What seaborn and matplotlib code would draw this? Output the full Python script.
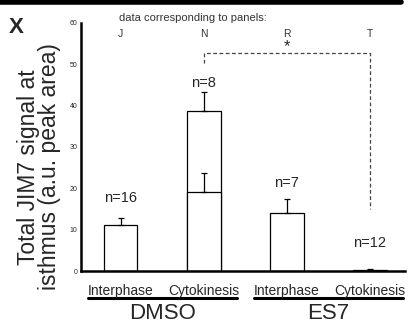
import pandas as pd
import matplotlib
matplotlib.use("Agg")
import matplotlib.pyplot as plt
import seaborn as sns

# values
conditions = ["Interphase", "Cytokinesis", "Interphase", "Cytokinesis"]
treatments = ["DMSO", "DMSO", "ES7", "ES7"]
means = [11.1, 38.8, 14.0, 0.3]
errors = [1.8, 4.5, 3.4, 0.1]
inner_mean = [0, 19.2, 0, 0]
inner_err = [0, 4.6, 0, 0]
n_labels = ["n=16", "n=8", "n=7", "n=12"]
n_heights = [17.7, 45.5, 21.3, 6.8]
panels = ["J", "N", "R", "T"]

df = pd.DataFrame({"pos": range(4), "mean": means, "inner": inner_mean})

sns.set_theme(style="white")
plt.rcParams["font.family"] = ["Liberation Sans", "DejaVu Sans"]

fig = plt.figure(figsize=(4.09, 3.27), dpi=100)
ax = fig.add_axes([0.198, 0.171, 0.792, 0.759])

sns.barplot(data=df, x="pos", y="mean", color="white", edgecolor="black",
            linewidth=0.9, width=0.4, ax=ax, native_scale=True)
ax.errorbar(df["pos"], means, yerr=[[0] * 4, errors], fmt="none",
            ecolor="black", elinewidth=0.9, capsize=2.5, capthick=0.9)

# inner (peak) value for DMSO cytokinesis
sub = df[df["inner"] > 0]
sns.barplot(data=sub, x="pos", y="inner", color="white", edgecolor="black",
            linewidth=0.9, width=0.4, ax=ax, native_scale=True)
ax.errorbar(sub["pos"], sub["inner"], yerr=[[0] * len(sub), [inner_err[1]]],
            fmt="none", ecolor="black", elinewidth=0.9, capsize=2.5, capthick=0.9)

for x, lab, h in zip(df["pos"], n_labels, n_heights):
    ax.text(x, h, lab, ha="center", va="center", fontsize=10.5)

for x, p in zip(df["pos"], panels):
    ax.text(x, 57.2, p, ha="center", va="center", fontsize=7.5, color="#333333")
ax.text(-0.02, 61.3, "data corresponding to panels:", ha="left", va="center",
        fontsize=8, color="#333333")

# significance bracket
ax.plot([1, 1, 3, 3], [50.4, 52.8, 52.8, 15], ls=(0, (3, 2)), color="#444444", lw=0.9)
ax.text(2, 54.3, "*", ha="center", va="center", fontsize=12)

ax.set_xlim(-0.48, 3.42)
ax.set_ylim(0, 60)
ax.set_yticks(range(0, 61, 10))
ax.tick_params(axis="y", labelsize=5, length=3, width=0.8, direction="inout", pad=1)
ax.set_xticks([])
ax.set_xlabel("")
ax.set_ylabel("Total JIM7 signal at\nisthmus (a.u. peak area)", fontsize=16.5,
              linespacing=0.9)
ax.yaxis.set_label_coords(-0.062, 0.42)
for s in ["top", "right"]:
    ax.spines[s].set_visible(False)
for s in ["left", "bottom"]:
    ax.spines[s].set_linewidth(1.8)
    ax.spines[s].set_color("black")

# category labels under axis
for x, c in zip(df["pos"], conditions):
    ax.text(x, -3.2, c, ha="center", va="top", fontsize=10)
for x0, x1, t in [(-0.4, 1.4, "DMSO"), (1.6, 3.4, "ES7")]:
    ax.plot([x0, x1], [-6.6, -6.6], color="black", lw=2.2, clip_on=False)
    ax.text((x0 + x1) / 2, -7.6, t, ha="center", va="top", fontsize=16)

fig.text(0.022, 0.915, "X", fontsize=16, fontweight="bold", ha="left", va="center")
fig.add_artist(plt.Line2D([0, 0.98], [0.995, 0.995], color="black", lw=4))

fig.savefig("out.png", dpi=100)
